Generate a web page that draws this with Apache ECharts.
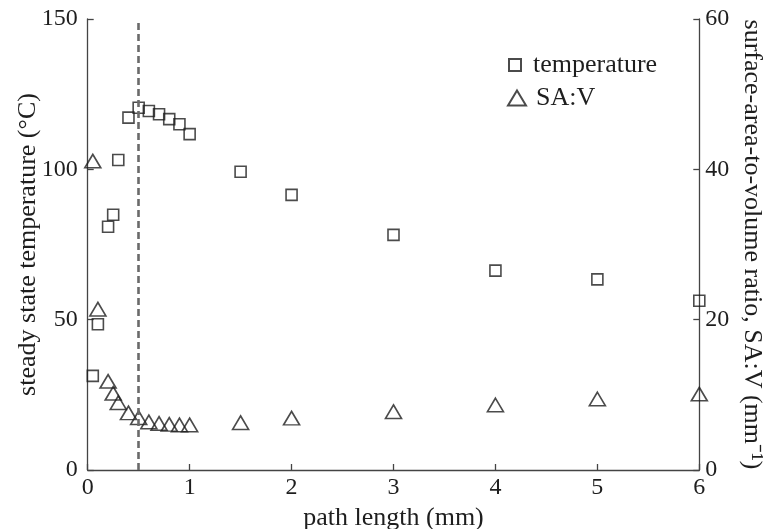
<!DOCTYPE html>
<html>
<head>
<meta charset="utf-8">
<script src="https://cdn.jsdelivr.net/npm/echarts@6/dist/echarts.min.js"></script>
<style>
  html, body { margin: 0; padding: 0; background: #fff; }
  #chart { width: 765px; height: 529px; }
</style>
</head>
<body>
<div id="chart"></div>
<script>
// Path lengths (mm) at which both quantities were evaluated
const pathLength = [0.05, 0.1, 0.2, 0.25, 0.3, 0.4, 0.5, 0.6, 0.7, 0.8, 0.9, 1.0, 1.5, 2, 3, 4, 5, 6];
// Steady state temperature (°C)
const temperature = [31.3, 48.5, 80.9, 84.9, 103.1, 117.2, 120.5, 119.4, 118.3, 116.7, 115.0, 111.7, 99.2, 91.5, 78.2, 66.3, 63.4, 56.3];
// Surface-area-to-volume ratio (mm^-1)
const saV = [41.1, 21.4, 11.8, 10.2, 8.95, 7.6, 6.96, 6.4, 6.2, 6.07, 6.0, 6.0, 6.3, 6.9, 7.76, 8.65, 9.45, 10.1];
// Marked path length
const markedLength = 0.5;

const xTicks = { min: 0, max: 6, interval: 1 };
const tempTicks = { min: 0, max: 150, interval: 50 };
const ratioTicks = { min: 0, max: 60, interval: 20 };

const FONT = '"Liberation Serif", "Times New Roman", serif';
const INK = '#1e1e1e';
const AXIS = '#444';
const TICK_SIZE = 24;
const NAME_SIZE = 26;

const pair = (xs, ys) => xs.map((x, i) => [x, ys[i]]);

function axisCommon(labelMargin) {
  return {
    nameMoveOverlap: false,
    axisLine: { show: true, onZero: false, lineStyle: { color: AXIS, width: 1.3 } },
    axisTick: { show: true, inside: true, length: 6, lineStyle: { color: AXIS, width: 1.3 } },
    splitLine: { show: false },
    axisLabel: { color: INK, fontFamily: FONT, fontSize: TICK_SIZE, margin: labelMargin },
    nameTextStyle: { color: INK, fontFamily: FONT, fontSize: NAME_SIZE }
  };
}

const chart = echarts.init(document.getElementById('chart'), null, { renderer: 'canvas' });

chart.setOption({
  animation: false,
  backgroundColor: '#fff',
  textStyle: { fontFamily: FONT },
  grid: { left: 87.7, right: 65.7, top: 19, bottom: 59, containLabel: false, outerBoundsMode: 'none' },
  legend: [
    {
      data: ['temperature'],
      left: 503, top: 47,
      itemWidth: 12, itemHeight: 12,
      textStyle: { color: INK, fontFamily: FONT, fontSize: NAME_SIZE, padding: [0, 0, 0, 7] }
    },
    {
      data: ['SA:V'],
      left: 502, top: 80,
      itemWidth: 18, itemHeight: 15,
      textStyle: { color: INK, fontFamily: FONT, fontSize: NAME_SIZE, padding: [0, 0, 0, 5] }
    }
  ],
  xAxis: Object.assign(axisCommon(6), {
    type: 'value',
    min: xTicks.min, max: xTicks.max, interval: xTicks.interval,
    name: 'path length (mm)',
    nameLocation: 'middle',
    nameGap: 35
  }),
  yAxis: [
    Object.assign(axisCommon(10), {
      type: 'value',
      position: 'left',
      min: tempTicks.min, max: tempTicks.max, interval: tempTicks.interval,
      name: 'steady state temperature (°C)',
      nameLocation: 'middle',
      nameGap: 47
    }),
    Object.assign(axisCommon(6), {
      type: 'value',
      position: 'right',
      min: ratioTicks.min, max: ratioTicks.max, interval: ratioTicks.interval,
      name: 'surface-area-to-volume ratio, SA:V (mm\u207B\u00B9)',
      nameLocation: 'middle',
      nameRotate: -90,
      nameGap: 40
    })
  ],
  series: [
    {
      name: 'temperature',
      type: 'scatter',
      yAxisIndex: 0,
      symbol: 'rect',
      symbolSize: 11,
      itemStyle: { color: 'rgba(255,255,255,0)', borderColor: INK, borderWidth: 1.6 },
      data: pair(pathLength, temperature),
      markLine: {
        silent: true,
        symbol: 'none',
        label: { show: false },
        lineStyle: { color: '#6a6a6a', width: 2.6, type: [7, 4] },
        data: [{ xAxis: markedLength }]
      },
      z: 3
    },
    {
      name: 'SA:V',
      type: 'scatter',
      yAxisIndex: 1,
      symbol: 'triangle',
      symbolSize: [16, 13.5],
      itemStyle: { color: 'rgba(255,255,255,0)', borderColor: INK, borderWidth: 1.6 },
      data: pair(pathLength, saV),
      z: 3
    }
  ]
});
</script>
</body>
</html>
